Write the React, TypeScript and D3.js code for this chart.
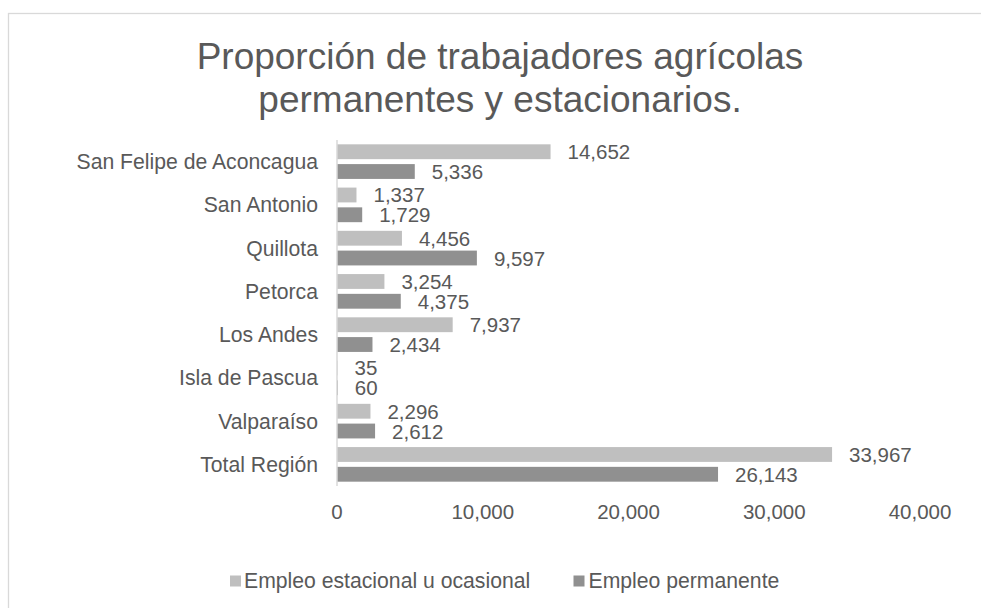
import React from "react";
import * as d3 from "d3";

const categories = [
  "San Felipe de Aconcagua",
  "San Antonio",
  "Quillota",
  "Petorca",
  "Los Andes",
  "Isla de Pascua",
  "Valparaíso",
  "Total Región",
];
const seasonal = [14652, 1337, 4456, 3254, 7937, 35, 2296, 33967];
const permanent = [5336, 1729, 9597, 4375, 2434, 60, 2612, 26143];
const seriesNames = ["Empleo estacional u ocasional", "Empleo permanente"];
const xTicks = [0, 10000, 20000, 30000, 40000];
const titleLines = ["Proporción de trabajadores agrícolas", "permanentes y estacionarios."];

const W = 981;
const H = 608;
const plot = { left: 337, right: 920, top: 140, bottom: 486 };
const colors = ["#BFBFBF", "#909090"];
const textColor = "#595959";
const font = "'Liberation Sans', Arial, sans-serif";
const fsNum = 20.5;
const fsText = 21.2;

export default function App() {
  const x = d3.scaleLinear().domain([0, 40000]).range([plot.left, plot.right]);
  const y = d3
    .scaleBand<string>()
    .domain(categories)
    .range([plot.top, plot.bottom])
    .paddingInner(0.2)
    .paddingOuter(0.1);
  const inner = d3
    .scaleBand<number>()
    .domain([0, 1])
    .range([0, y.bandwidth()])
    .paddingInner(0.25)
    .paddingOuter(0);
  const fmt = d3.format(",");
  const series = [seasonal, permanent];
  const step = y.step();

  const legendItems = [
    { sq: 230, tx: 244 },
    { sq: 573.5, tx: 588.5 },
  ];

  return (
    <svg
      width={W}
      height={H}
      style={{ position: "absolute", left: 0, top: 0, background: "#fff" }}
      fontFamily={font}
    >
      <rect x={8.5} y={13.5} width={1100} height={800} fill="#fff" stroke="#D9D9D9" strokeWidth={1.3} />
      <text textAnchor="middle" fill={textColor} fontSize={37}>
        {titleLines.map((t, i) => (
          <tspan key={i} x={500} y={69 + i * 42.5}>
            {t}
          </tspan>
        ))}
      </text>

      {categories.map((c, ci) => (
        <g key={c}>
          <text
            x={plot.left - 19}
            y={(y(c) as number) - step * 0.1 + step / 2}
            textAnchor="end"
            dominantBaseline="central"
            fontSize={fsText}
            fill={textColor}
          >
            {c}
          </text>
          {series.map((s, si) => {
            const by = (y(c) as number) + (inner(si) as number);
            const bh = inner.bandwidth();
            return (
              <g key={si}>
                <rect
                  x={x(0)}
                  y={by}
                  width={Math.max(0, x(s[ci]) - x(0))}
                  height={bh}
                  fill={colors[si]}
                />
                <text
                  x={x(s[ci]) + 17}
                  y={by + bh / 2}
                  dominantBaseline="central"
                  fontSize={fsNum}
                  fill={textColor}
                >
                  {fmt(s[ci])}
                </text>
              </g>
            );
          })}
        </g>
      ))}

      <line x1={plot.left} x2={plot.left} y1={plot.top} y2={plot.bottom} stroke="#D9D9D9" strokeWidth={1.5} />

      {xTicks.map((t) => (
        <text key={t} x={x(t)} y={519} textAnchor="middle" fontSize={fsNum} fill={textColor}>
          {fmt(t)}
        </text>
      ))}

      <g>
        {legendItems.map((li, i) => (
          <g key={i}>
            <rect x={li.sq} y={575.5} width={11} height={11} fill={colors[i]} />
            <text x={li.tx} y={587.5} fontSize={fsText} fill={textColor}>
              {seriesNames[i]}
            </text>
          </g>
        ))}
      </g>
    </svg>
  );
}
